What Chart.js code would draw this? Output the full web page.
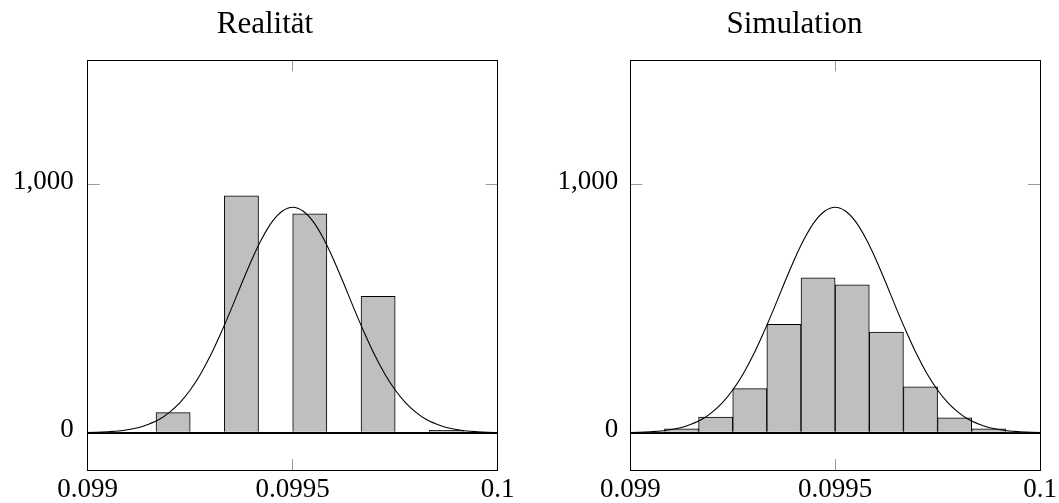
<!DOCTYPE html>
<html>
<head>
<meta charset="utf-8">
<script src="https://cdn.jsdelivr.net/npm/chart.js@4/dist/chart.umd.min.js"></script>
<style>
  html, body { margin: 0; padding: 0; background: #fff; }
  canvas { position: absolute; top: 0; }
</style>
</head>
<body>
<canvas id="c1" width="530" height="503" style="left:0px"></canvas>
<canvas id="c2" width="529" height="503" style="left:530px"></canvas>
<script>
// ---- data ----
const titles = ["Realität", "Simulation"];
const binCenters = [0.09904167, 0.09912500, 0.09920833, 0.09929167, 0.09937500, 0.09945833,
                    0.09954167, 0.09962500, 0.09970833, 0.09979167, 0.09987500, 0.09995833];
const realCounts = [2, 0, 81, 0, 954, 0, 882, 0, 549, 0, 10, 0];
const simCounts  = [2, 16, 63, 178, 437, 624, 596, 405, 185, 60, 16, 2];
const curveX = [0.099, 0.099025, 0.09905, 0.099075, 0.0991, 0.099125, 0.09915, 0.099175, 0.0992, 0.099225,
                0.09925, 0.099275, 0.0993, 0.099325, 0.09935, 0.099375, 0.0994, 0.099425, 0.09945, 0.099475,
                0.0995, 0.099525, 0.09955, 0.099575, 0.0996, 0.099625, 0.09965, 0.099675, 0.0997, 0.099725,
                0.09975, 0.099775, 0.0998, 0.099825, 0.09985, 0.099875, 0.0999, 0.099925, 0.09995, 0.099975, 0.1];
const curveY = [1, 2, 4, 7, 13, 21, 35, 54, 83, 121,
                172, 236, 313, 402, 498, 599, 696, 782, 850, 893,
                908, 893, 850, 782, 696, 599, 498, 402, 313, 236,
                172, 121, 83, 54, 35, 21, 13, 7, 4, 2, 1];
const xTickValues = [0.099, 0.0995, 0.1];
const yTickValues = [0, 1000];
const xMin = 0.099, xMax = 0.1, yMin = -150, yMax = 1500;

// ---- chart builder ----
const SERIF = "'Liberation Serif', 'Times New Roman', serif";
const TICK_GRAY = '#9a9a9a';

function noPad(s) { s.paddingTop = 0; s.paddingBottom = 0; s.paddingLeft = 0; s.paddingRight = 0; }

function makeChart(id, title, counts, geo) {
  const bars = binCenters.map((x, i) => ({ x: x, y: counts[i] }));
  const curve = curveX.map((x, i) => ({ x: x, y: curveY[i] }));
  return new Chart(document.getElementById(id), {
    type: 'bar',
    data: {
      datasets: [
        {
          type: 'line', data: curve, order: 0,
          borderColor: '#000', borderWidth: 1.1, pointRadius: 0, fill: false,
          cubicInterpolationMode: 'monotone', xAxisID: 'x', yAxisID: 'y'
        },
        {
          type: 'bar', data: bars, order: 1,
          backgroundColor: '#bfbfbf', borderColor: '#000', borderWidth: 1,
          barPercentage: 1, categoryPercentage: 1, xAxisID: 'x', yAxisID: 'y'
        }
      ]
    },
    options: {
      responsive: false, animation: false, devicePixelRatio: 1,
      layout: { padding: 0 },
      plugins: {
        legend: { display: false }, tooltip: { enabled: false },
        title: {
          display: true, text: title, color: '#000',
          font: { family: SERIF, size: 31, weight: 'normal', lineHeight: 1 },
          padding: { top: geo.titleTop, bottom: 0 }
        }
      },
      scales: {
        x: {
          type: 'linear', position: 'bottom', min: xMin, max: xMax, offset: false,
          afterBuildTicks: s => { s.ticks = xTickValues.map(v => ({ value: v })); },
          afterFit: s => { s.height = geo.bottomH; noPad(s); },
          ticks: {
            color: '#000', padding: geo.xLabelPad, maxRotation: 0, autoSkip: false,
            font: { family: SERIF, size: 27 },
            callback: v => String(parseFloat(Number(v).toFixed(6)))
          },
          grid: {
            offset: false, drawOnChartArea: false, drawTicks: true, tickLength: -11,
            tickColor: c => (c.tick && c.tick.value === 0.0995) ? TICK_GRAY : 'rgba(0,0,0,0)',
            tickWidth: 1
          },
          border: { display: true, color: '#000', width: 1 }
        },
        x2: {
          type: 'linear', position: 'top', min: xMin, max: xMax, offset: false,
          afterBuildTicks: s => { s.ticks = [{ value: 0.0995 }]; },
          afterFit: s => { s.height = geo.topH; noPad(s); },
          ticks: { display: false },
          grid: { offset: false, drawOnChartArea: false, tickLength: -11, tickColor: TICK_GRAY, tickWidth: 1 },
          border: { display: true, color: '#000', width: 1 }
        },
        y: {
          type: 'linear', position: 'left', min: yMin, max: yMax,
          afterBuildTicks: s => { s.ticks = yTickValues.map(v => ({ value: v })); },
          afterFit: s => { s.width = geo.leftW; noPad(s); },
          ticks: {
            color: '#000', padding: geo.yLabelPad, labelOffset: -3,
            font: { family: SERIF, size: 27 }
          },
          grid: {
            drawOnChartArea: true, tickLength: -12,
            color: c => (c.tick && c.tick.value === 0) ? '#000' : 'rgba(0,0,0,0)',
            lineWidth: c => (c.tick && c.tick.value === 0) ? 2 : 1,
            tickColor: c => (c.tick && c.tick.value === 0) ? '#000' : TICK_GRAY,
            tickWidth: 1
          },
          border: { display: true, color: '#000', width: 1 }
        },
        y2: {
          type: 'linear', position: 'right', min: yMin, max: yMax,
          afterBuildTicks: s => { s.ticks = [{ value: 1000 }]; },
          afterFit: s => { s.width = geo.rightW; noPad(s); },
          ticks: { display: false },
          grid: { drawOnChartArea: false, tickLength: -12, tickColor: TICK_GRAY, tickWidth: 1 },
          border: { display: true, color: '#000', width: 1 }
        }
      }
    }
  });
}

const geoLeft  = { titleTop: 9, topH: 20.3, bottomH: 33, leftW: 87.7, rightW: 32.3, yLabelPad: 26, xLabelPad: 15 };
const geoRight = { titleTop: 9, topH: 20.3, bottomH: 33, leftW: 100.3, rightW: 19, yLabelPad: 24, xLabelPad: 15 };

makeChart('c1', titles[0], realCounts, geoLeft);
makeChart('c2', titles[1], simCounts, geoRight);
</script>
</body>
</html>
